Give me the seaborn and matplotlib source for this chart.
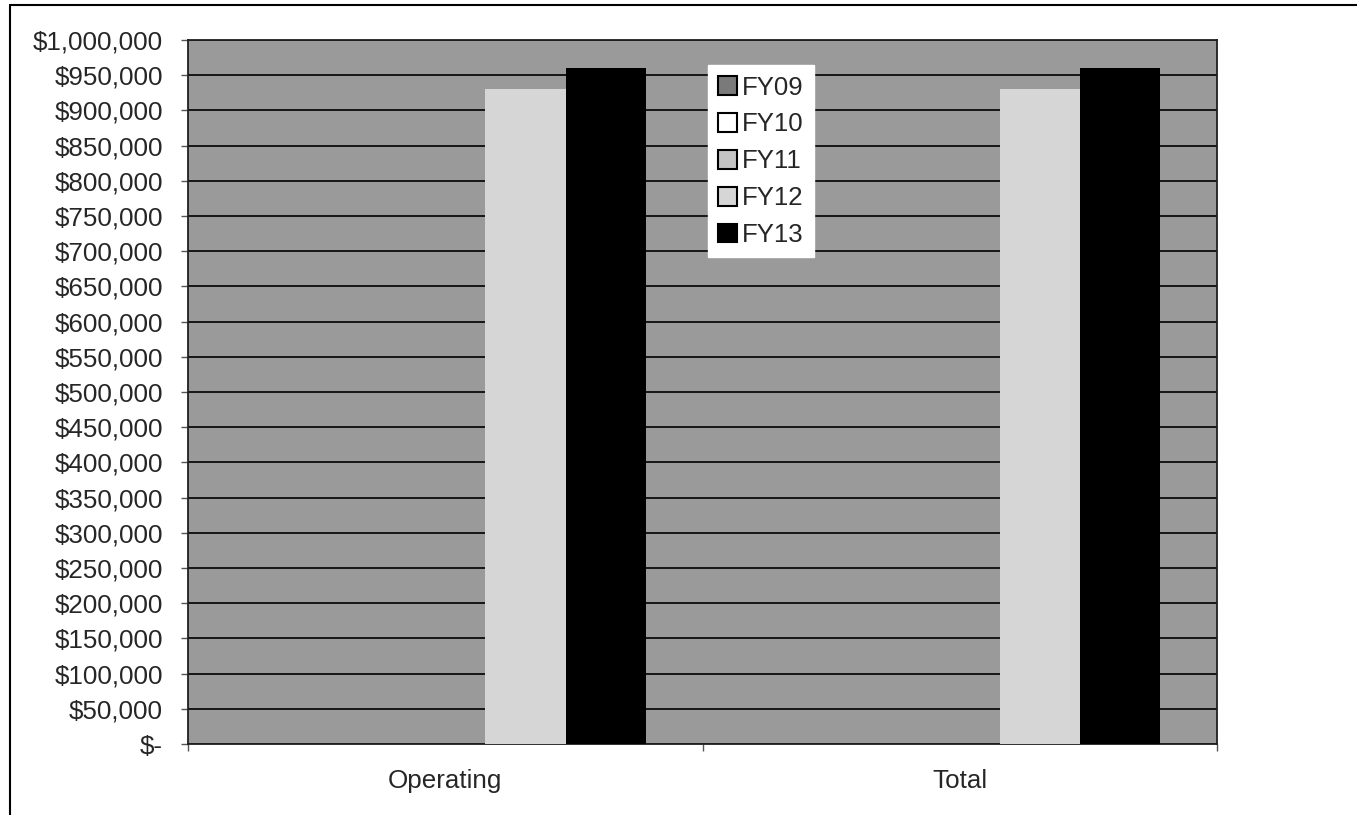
import matplotlib
matplotlib.use("Agg")
import matplotlib.pyplot as plt
import matplotlib.ticker as mticker
from matplotlib.lines import Line2D
import pandas as pd
import seaborn as sns

categories = ["Operating", "Total"]
series = ["FY09", "FY10", "FY11", "FY12", "FY13"]
fy09 = [0, 0]
fy10 = [0, 0]
fy11 = [0, 0]
fy12 = [930000, 930000]
fy13 = [960000, 960000]
y_ticks = list(range(0, 1000001, 50000))

rows = []
for name, vals in zip(series, [fy09, fy10, fy11, fy12, fy13]):
    for c, v in zip(categories, vals):
        rows.append({"category": c, "series": name, "value": v})
df = pd.DataFrame(rows)

sns.set_theme(style="white")
plt.rcParams["font.family"] = ["Liberation Sans", "DejaVu Sans"]

palette = {"FY09": "#7a7a7a", "FY10": "#ffffff", "FY11": "#c4c4c4",
           "FY12": "#d6d6d6", "FY13": "#000000"}

fig = plt.figure(figsize=(13.57, 8.15), dpi=100)
ax = fig.add_axes([188/1357, 1-744/815, (1217-188)/1357, (744-40)/815])
ax.set_facecolor("#9a9a9a")

sns.barplot(data=df, x="category", y="value", hue="series", order=categories,
            hue_order=series, palette=palette, width=0.78, edgecolor="none",
            linewidth=0, ax=ax, zorder=3)

ax.set_ylim(0, 1000000)
ax.set_xlim(-0.5, 1.5)
ax.set_yticks(y_ticks)

def fmt(v, pos):
    if v == 0:
        return "$-"
    return "${:,.0f}".format(v)

ax.yaxis.set_major_formatter(mticker.FuncFormatter(fmt))
ax.yaxis.grid(True, color="#000000", linewidth=1.2, zorder=1)
ax.set_axisbelow(True)
ax.set_xlabel("")
ax.set_ylabel("")
ax.tick_params(axis="y", labelsize=18.7, length=5, width=1, color="#555555",
               pad=13, left=True)
ax.tick_params(axis="x", labelsize=18.7, length=0, pad=18)
ax.set_xticks([-0.5, 0.5, 1.5], minor=True)
ax.tick_params(axis="x", which="minor", length=5, color="#555555", bottom=True)
for s in ax.spines.values():
    s.set_color("#202020")
    s.set_linewidth(1.3)
    s.set_visible(True)

leg = ax.legend(loc="upper left", bbox_to_anchor=(0.505, 0.964), fontsize=18.5,
                frameon=True, facecolor="white", edgecolor="white", framealpha=1,
                fancybox=False, handlelength=0.75, handleheight=0.75,
                handletextpad=0.2, labelspacing=0.5, borderpad=0.4,
                borderaxespad=0)
for h in leg.legend_handles:
    h.set_edgecolor("#000000")
    h.set_linewidth(1.5)
leg.set_zorder(5)

fig.add_artist(Line2D([10/1357, 10/1357], [0, 1-5/815], transform=fig.transFigure,
                      color="black", linewidth=1.5))
fig.add_artist(Line2D([10/1357, 1], [1-5/815, 1-5/815], transform=fig.transFigure,
                      color="black", linewidth=1.5))

fig.savefig("out.png", dpi=100)
